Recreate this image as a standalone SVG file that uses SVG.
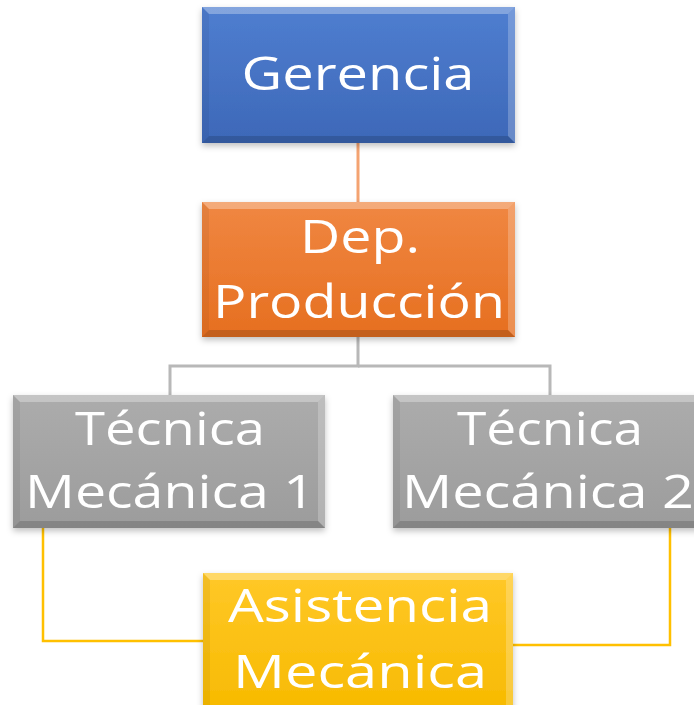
<svg xmlns="http://www.w3.org/2000/svg" width="694" height="705" viewBox="0 0 694 705">
<defs>
<linearGradient id="gBlue" x1="0" y1="0" x2="0" y2="1"><stop offset="0" stop-color="#4F7ED0"/><stop offset="1" stop-color="#3D68B8"/></linearGradient>
<linearGradient id="gOrange" x1="0" y1="0" x2="0" y2="1"><stop offset="0" stop-color="#F08742"/><stop offset="1" stop-color="#E66F20"/></linearGradient>
<linearGradient id="gGray" x1="0" y1="0" x2="0" y2="1"><stop offset="0" stop-color="#ACACAC"/><stop offset="1" stop-color="#9C9C9C"/></linearGradient>
<linearGradient id="gYellow" x1="0" y1="0" x2="0" y2="1"><stop offset="0" stop-color="#FFC828"/><stop offset="1" stop-color="#F7BA00"/></linearGradient>
<filter id="sh" x="-10%" y="-10%" width="120%" height="130%"><feDropShadow dx="0" dy="3" stdDeviation="3" flood-color="#000" flood-opacity="0.25"/></filter>
</defs>
<style>
.lbl{font-family:"Open Sans","DejaVu Sans",sans-serif;font-size:46px;fill:#FFFFFF;text-anchor:middle}
.hi{fill:#FFFFFF;opacity:0.3}
.hr{fill:#FFFFFF;opacity:0.22}
.dk{fill:#000000;opacity:0.15}
.dl{fill:#000000;opacity:0.05}
.conn{fill:none}
</style>
<g id="connectors" class="conn">
<line x1="358" y1="143" x2="358" y2="202" stroke="#F4A371" stroke-width="3"/>
<polyline points="358,337 358,366 170,366 170,395" stroke="#B8B8B8" stroke-width="3"/>
<polyline points="358,366 550,366 550,395" stroke="#B8B8B8" stroke-width="3"/>
<polyline points="43,528 43,641 203,641" stroke="#FFC000" stroke-width="2.5"/>
<polyline points="670,528 670,645 513,645" stroke="#FFC000" stroke-width="2.5"/>
</g>
<g id="gerencia">
<rect x="202" y="7" width="313" height="136" fill="url(#gBlue)" filter="url(#sh)"/>
<polygon class="hi" points="202,7 515,7 508,14 209,14"/>
<polygon class="hr" points="515,7 515,143 508,136 508,14"/>
<polygon class="dk" points="202,143 515,143 508,136 209,136"/>
<polygon class="dl" points="202,7 209,14 209,136 202,143"/>
<text class="lbl" x="358" y="90" textLength="233" lengthAdjust="spacingAndGlyphs">Gerencia</text>
</g>
<g id="produccion">
<rect x="202" y="202" width="313" height="135" fill="url(#gOrange)" filter="url(#sh)"/>
<polygon class="hi" points="202,202 515,202 508,209 209,209"/>
<polygon class="hr" points="515,202 515,337 508,330 508,209"/>
<polygon class="dk" points="202,337 515,337 508,330 209,330"/>
<polygon class="dl" points="202,202 209,209 209,330 202,337"/>
<text class="lbl" x="360" y="253" textLength="120" lengthAdjust="spacingAndGlyphs">Dep.</text>
<text class="lbl" x="359" y="318" textLength="292" lengthAdjust="spacingAndGlyphs">Producción</text>
</g>
<g id="tecnica1">
<rect x="13" y="395" width="312" height="133" fill="url(#gGray)" filter="url(#sh)"/>
<polygon class="hi" points="13,395 325,395 318,402 20,402"/>
<polygon class="hr" points="325,395 325,528 318,521 318,402"/>
<polygon class="dk" points="13,528 325,528 318,521 20,521"/>
<polygon class="dl" points="13,395 20,402 20,521 13,528"/>
<text class="lbl" x="170" y="445" textLength="190" lengthAdjust="spacingAndGlyphs">Técnica</text>
<text class="lbl" x="170" y="508" textLength="290" lengthAdjust="spacingAndGlyphs">Mecánica 1</text>
</g>
<g id="tecnica2">
<rect x="393" y="395" width="313" height="133" fill="url(#gGray)" filter="url(#sh)"/>
<polygon class="hi" points="393,395 706,395 699,402 400,402"/>
<polygon class="dk" points="393,528 706,528 699,521 400,521"/>
<polygon class="dl" points="393,395 400,402 400,521 393,528"/>
<text class="lbl" x="550" y="445" textLength="186" lengthAdjust="spacingAndGlyphs">Técnica</text>
<text class="lbl" x="548" y="508" textLength="292" lengthAdjust="spacingAndGlyphs">Mecánica 2</text>
</g>
<g id="asistencia">
<rect x="203" y="573" width="310" height="140" fill="url(#gYellow)" filter="url(#sh)"/>
<polygon class="hi" points="203,573 513,573 506,580 210,580"/>
<polygon class="hr" points="513,573 513,713 506,706 506,580"/>
<polygon class="dl" points="203,573 210,580 210,706 203,713"/>
<text class="lbl" x="360" y="622" textLength="264" lengthAdjust="spacingAndGlyphs">Asistencia</text>
<text class="lbl" x="360" y="688" textLength="254" lengthAdjust="spacingAndGlyphs">Mecánica</text>
</g>
</svg>
